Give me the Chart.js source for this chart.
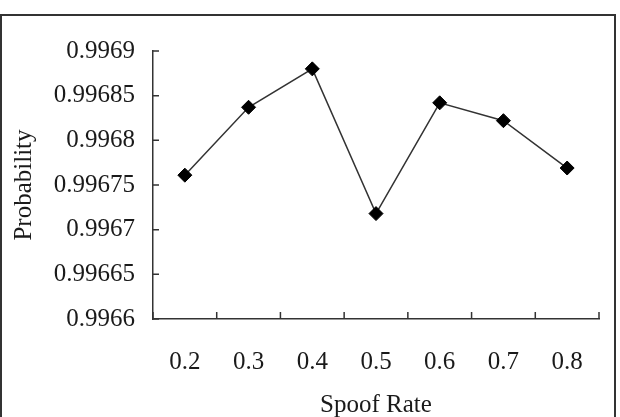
<!DOCTYPE html>
<html>
<head>
<meta charset="utf-8">
<script src="https://cdn.jsdelivr.net/npm/chart.js@4/dist/chart.umd.min.js"></script>
<style>
html,body{margin:0;padding:0;background:#fff;}
#wrap{width:620px;height:417px;position:relative;}
</style>
</head>
<body>
<div id="wrap"><canvas id="c" width="620" height="417"></canvas></div>
<script>
const categories = ['0.2', '0.3', '0.4', '0.5', '0.6', '0.7', '0.8'];
const probability = [0.996761, 0.996837, 0.996880, 0.996718, 0.996842, 0.996822, 0.996769];
const yTicks = [0.9966, 0.99665, 0.9967, 0.99675, 0.9968, 0.99685, 0.9969];
const yTickLabels = ['0.9966', '0.99665', '0.9967', '0.99675', '0.9968', '0.99685', '0.9969'];

const FONT = 'Liberation Serif, Times New Roman, serif';
const INK = '#1a1a1a';

const framePlugin = {
  id: 'frame',
  beforeDraw(chart) {
    const ctx = chart.ctx;
    ctx.save();
    ctx.fillStyle = '#fff';
    ctx.fillRect(0, 0, chart.width, chart.height);
    ctx.strokeStyle = '#333';
    ctx.lineWidth = 2;
    ctx.strokeRect(1, 15, 614, 430);
    ctx.restore();
  }
};

const inwardTicks = {
  id: 'inwardTicks',
  afterDraw(chart) {
    const ctx = chart.ctx;
    const x = chart.scales.x, y = chart.scales.y;
    ctx.save();
    ctx.strokeStyle = '#333';
    ctx.lineWidth = 1.5;
    ctx.beginPath();
    y.ticks.forEach((t, i) => {
      const py = y.getPixelForTick(i);
      ctx.moveTo(y.right, py);
      ctx.lineTo(y.right + 6, py);
    });
    for (let i = 0; i <= categories.length; i++) {
      const px = x.getPixelForValue(i - 0.5);
      ctx.moveTo(px, x.top);
      ctx.lineTo(px, x.top - 7);
    }
    ctx.stroke();
    ctx.restore();
  }
};

new Chart(document.getElementById('c'), {
  type: 'line',
  data: {
    labels: categories,
    datasets: [{
      data: probability,
      borderColor: '#333',
      borderWidth: 1.5,
      pointStyle: 'rectRot',
      pointRadius: 7,
      pointBackgroundColor: '#000',
      pointBorderColor: '#000',
      pointBorderWidth: 1,
      tension: 0,
      clip: false
    }]
  },
  plugins: [framePlugin, inwardTicks],
  options: {
    responsive: false,
    animation: false,
    devicePixelRatio: 1,
    layout: { padding: { left: 0, right: 21, top: 51, bottom: 0 } },
    plugins: { legend: { display: false }, tooltip: { enabled: false } },
    scales: {
      x: {
        type: 'category',
        offset: true,
        afterFit(s) { s.height = 98; },
        grid: { display: true, drawOnChartArea: false, drawTicks: false, offset: true },
        border: { display: true, color: '#333', width: 1.5 },
        ticks: { color: INK, font: { family: FONT, size: 25 }, padding: 28, maxRotation: 0, autoSkip: false },
        title: { display: true, text: 'Spoof Rate', color: INK, font: { family: FONT, size: 25, lineHeight: 0.9 }, padding: { top: 0, bottom: 0 } }
      },
      y: {
        min: 0.9966,
        max: 0.9969,
        afterBuildTicks(s) { s.ticks = yTicks.map(v => ({ value: v })); },
        afterFit(s) { s.width = 153; },
        grid: { display: true, drawOnChartArea: false, drawTicks: false },
        border: { display: true, color: '#333', width: 1.5 },
        ticks: {
          color: INK, font: { family: FONT, size: 25 }, padding: 18,
          callback(v, i) { return yTickLabels[i]; }
        },
        title: { display: true, text: 'Probability', color: INK, font: { family: FONT, size: 25, lineHeight: 1.2 }, padding: { top: 9, bottom: 0 } }
      }
    }
  }
});
</script>
</body>
</html>
